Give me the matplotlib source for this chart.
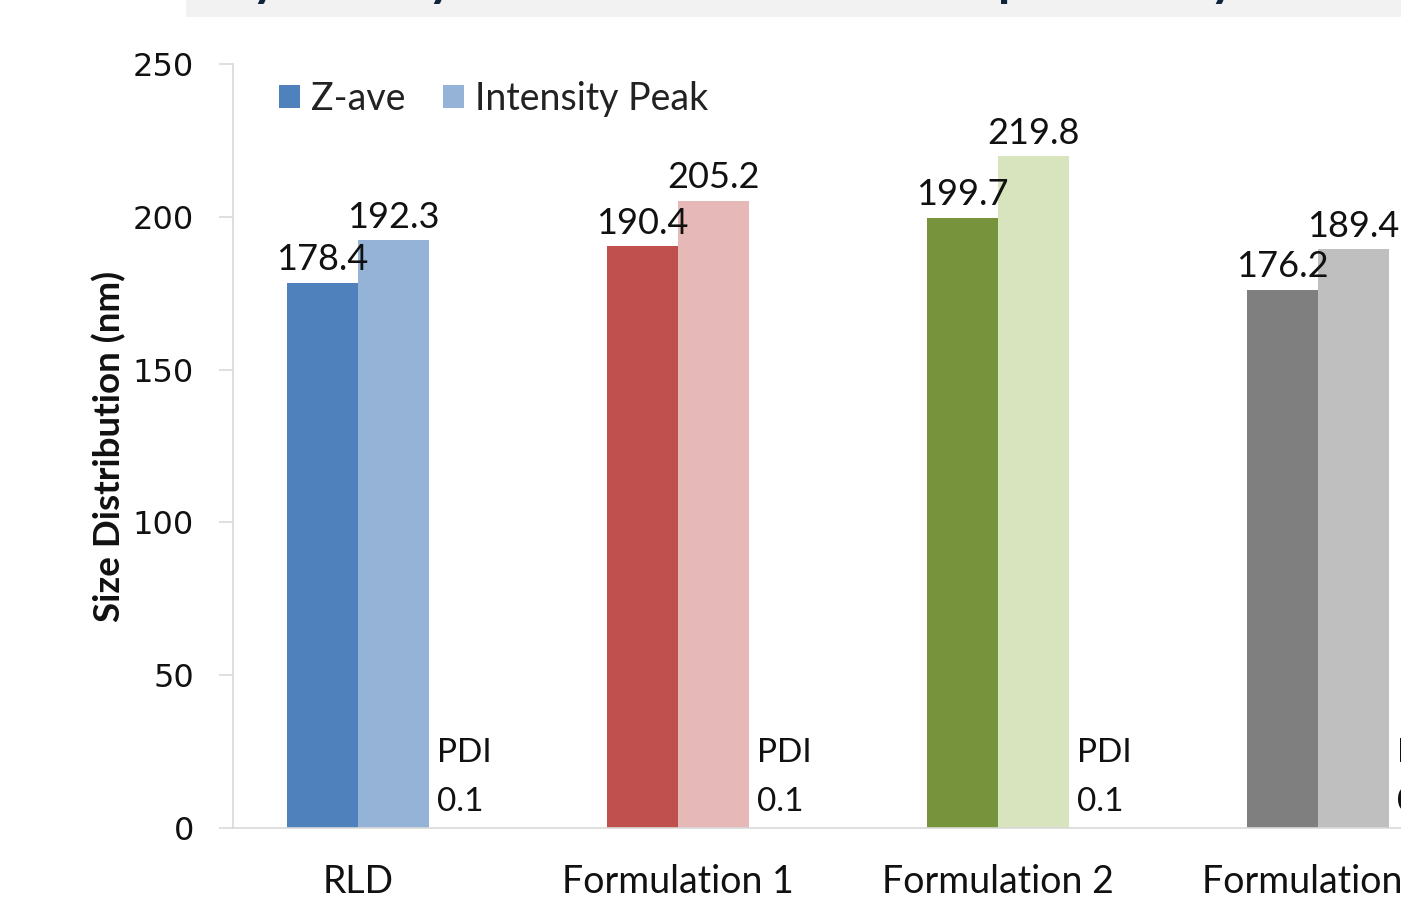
import matplotlib.pyplot as plt
import numpy as np
from matplotlib.patches import Patch, Rectangle

# ------------------------------------------------------------
# Data
# ------------------------------------------------------------
groups = ["RLD", "Formulation 1", "Formulation 2", "Formulation 3"]
z_ave = [178.4, 190.4, 199.7, 176.2]
intensity_peak = [192.3, 205.2, 219.8, 189.4]
pdi = [0.1, 0.1, 0.1, 0.1]

z_colors = ["#4f81bd", "#c0504d", "#77933c", "#7f7f7f"]
peak_colors = ["#95b3d7", "#e6b9b8", "#d7e4bd", "#bfbfbf"]

# ------------------------------------------------------------
# Style
# ------------------------------------------------------------
TXT = "Lato"
plt.rcParams.update({
    "font.family": [TXT, "DejaVu Sans"],
    "axes.linewidth": 1.2,
})

W, H = 1401, 902
fig = plt.figure(figsize=(W / 100, H / 100), dpi=100)

# heading strip across the top
fig.patches.append(Rectangle((186 / W, 1 - 17 / H), 1 - 186 / W, 17 / H,
                             transform=fig.transFigure, facecolor="#f2f2f2",
                             edgecolor="none", zorder=0))
for hx, ch in [(252, "y"), (428, "y"), (998, "p"), (1210, "y")]:
    fig.text(hx / W, 1 + 4 / H, ch, fontsize=36, fontweight="bold",
             color="#10243e", va="baseline", ha="left")

# axes: 0..250 spans pixel rows 64..828, left axis at x=233
ax = fig.add_axes([233 / W, 74 / H, 1209.6 / W, 764 / H])

x = np.arange(len(groups))
bw = 0.222

for i in x:
    ax.bar(i - bw / 2, z_ave[i], bw, color=z_colors[i], zorder=2)
    ax.bar(i + bw / 2, intensity_peak[i], bw, color=peak_colors[i], zorder=2)
    ax.annotate(f"{z_ave[i]:.1f}", (i - bw / 2, z_ave[i]), xytext=(0, 9),
                textcoords="offset points", ha="center", va="baseline",
                fontsize=26, color="#111111")
    ax.annotate(f"{intensity_peak[i]:.1f}", (i + bw / 2, intensity_peak[i]),
                xytext=(0, 9), textcoords="offset points", ha="center",
                va="baseline", fontsize=26, color="#111111")
    ax.text(i + bw + 0.025, 21.5, "PDI", fontsize=24, color="#111111",
            ha="left", va="baseline")
    ax.text(i + bw + 0.025, 5.5, f"{pdi[i]}", fontsize=24, color="#111111",
            ha="left", va="baseline")

ax.set_xlim(-0.39, 3.39)
ax.set_ylim(0, 250)
ax.set_yticks(np.arange(0, 251, 50))
ax.set_yticklabels([str(v) for v in range(0, 251, 50)],
                   fontfamily="DejaVu Sans", fontsize=23, color="#111111")
ax.tick_params(axis="y", length=10, width=1.2, color="#d9d9d9", pad=18)
ax.set_xticks(x)
ax.set_xticklabels(groups, fontsize=27, color="#111111")
ax.tick_params(axis="x", length=0, pad=26)

for s in ["top", "right"]:
    ax.spines[s].set_visible(False)
ax.spines["left"].set_color("#d9d9d9")
ax.spines["bottom"].set_color("#d9d9d9")

fig.text(109 / W, 1 - 446 / H, "Size Distribution (nm)", rotation=90,
         ha="center", va="center", fontsize=26.5, fontweight="bold",
         color="#111111")

handles = [Patch(facecolor=z_colors[0], label="Z-ave"),
           Patch(facecolor=peak_colors[0], label="Intensity Peak")]
ax.legend(handles=handles, loc="upper left", ncol=2, frameon=False,
          bbox_to_anchor=(31 / 1209.6, 1 - 2 / 764), fontsize=27,
          handlelength=0.55, handleheight=0.55, handletextpad=0.3,
          columnspacing=1.0, borderaxespad=0, labelcolor="#222222")

fig.savefig("out.png", dpi=100)
